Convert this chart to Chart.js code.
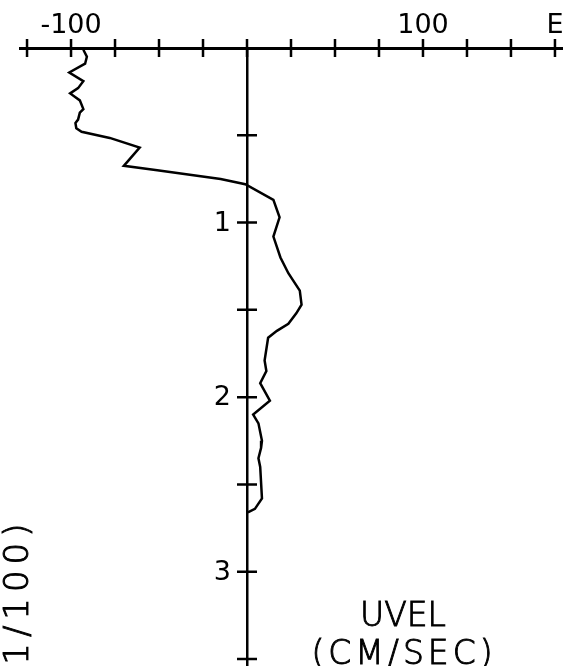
<!DOCTYPE html>
<html>
<head>
<meta charset="utf-8">
<script src="https://cdn.jsdelivr.net/npm/chart.js@4/dist/chart.umd.min.js"></script>
<style>
  html, body { margin: 0; padding: 0; background: #fff; }
  canvas { display: block; }
</style>
</head>
<body>
<canvas id="uvel-chart" width="566" height="666"></canvas>
<script>
// depth (1/100) and east velocity (cm/sec)
const depth = [0.01, 0.05, 0.09, 0.14, 0.19, 0.23, 0.26, 0.30, 0.35, 0.37, 0.41, 0.43, 0.46, 0.48,
  0.515, 0.57, 0.675, 0.70, 0.75, 0.78, 0.87, 0.97, 1.08, 1.20, 1.29, 1.39, 1.47, 1.52, 1.58,
  1.62, 1.66, 1.79, 1.85, 1.92, 2.02, 2.10, 2.15, 2.25, 2.29, 2.35, 2.40, 2.58, 2.64, 2.66];
const uvel = [-93, -91, -92, -101, -93, -96, -100.5, -95, -93, -95, -96, -97.5, -97, -94,
  -78, -61, -70, -51, -15, -1, 15, 18.5, 15, 19, 23.5, 30, 31, 28, 23.5,
  17, 12, 10, 11, 7.5, 13, 3.5, 6.5, 8.5, 8, 6.5, 7.5, 8.5, 4.5, 0.5];

// axis ticks
const xTicks = [-125, -100, -75, -50, -25, 0, 25, 50, 75, 100, 125, 150, 175];
const xTickLabels = { '-100': '-100', '100': '100', '175': 'E' };
const depthTicks = [0.5, 1, 1.5, 2, 2.5, 3, 3.5];
const depthTickLabels = { '1': '1', '2': '2', '3': '3' };

const plotFont = '"DejaVu Sans", sans-serif';

// plotter style "+" ticks, depth labels next to the centre axis, free text
const plotterMarks = {
  id: 'plotterMarks',
  afterDraw(chart) {
    const { ctx, scales: { x, y } } = chart;
    const x0 = x.getPixelForValue(0);
    const yTop = y.getPixelForValue(0);
    ctx.save();
    ctx.strokeStyle = '#000';
    ctx.lineWidth = 2.5;
    ctx.beginPath();
    xTicks.forEach(v => {
      const px = x.getPixelForValue(v);
      ctx.moveTo(px, yTop - 9);
      ctx.lineTo(px, yTop + 9);
    });
    depthTicks.forEach(v => {
      const py = y.getPixelForValue(v);
      ctx.moveTo(x0 - 10, py);
      ctx.lineTo(x0 + 10, py);
    });
    ctx.stroke();

    ctx.fillStyle = '#000';
    ctx.font = '27px ' + plotFont;
    ctx.textAlign = 'right';
    ctx.textBaseline = 'middle';
    depthTicks.forEach(v => {
      const lbl = depthTickLabels[String(v)];
      if (lbl) ctx.fillText(lbl, x0 - 16, y.getPixelForValue(v) + 1);
    });

    // thin plotter lettering
    ctx.font = '200 33px ' + plotFont;
    ctx.lineWidth = 0.9;
    ctx.textAlign = 'center';
    ctx.fillText('UVEL', 403, 617);
    ctx.strokeText('UVEL', 403, 617);
    ctx.letterSpacing = '4px';
    ctx.fillText('(CM/SEC)', 404, 655);
    ctx.strokeText('(CM/SEC)', 404, 655);

    ctx.translate(19, 684);
    ctx.rotate(-Math.PI / 2);
    ctx.textAlign = 'left';
    ctx.letterSpacing = '6px';
    ctx.font = '200 34px ' + plotFont;
    ctx.fillText('(1/100)', 0, 0);
    ctx.strokeText('(1/100)', 0, 0);
    ctx.restore();
  }
};

const ctx = document.getElementById('uvel-chart').getContext('2d');
new Chart(ctx, {
  type: 'line',
  data: {
    datasets: [{
      label: 'UVEL',
      data: depth.map((d, i) => ({ x: uvel[i], y: d })),
      borderColor: '#000',
      borderWidth: 2.5,
      pointRadius: 0,
      fill: false,
      tension: 0
    }]
  },
  options: {
    responsive: false,
    animation: false,
    layout: { padding: { left: 20, right: 4, top: 0, bottom: 0 } },
    plugins: {
      legend: { display: false },
      tooltip: { enabled: false }
    },
    scales: {
      x: {
        type: 'linear',
        position: 'top',
        min: -129,
        max: 179,
        afterBuildTicks: s => { s.ticks = xTicks.map(v => ({ value: v })); },
        afterFit: s => { s.height = 48; s.paddingLeft = 0; s.paddingRight = 0; },
        grid: { display: false },
        border: { display: true, color: '#000', width: 3 },
        ticks: {
          autoSkip: false,
          maxRotation: 0,
          padding: -2,
          color: '#000',
          font: { family: plotFont, size: 27 },
          callback: v => xTickLabels[String(v)] || ''
        }
      },
      y: {
        type: 'linear',
        position: { x: 0 },
        reverse: true,
        min: 0,
        max: 3.54,
        afterBuildTicks: s => { s.ticks = depthTicks.map(v => ({ value: v })); },
        afterFit: s => { s.paddingTop = 0; s.paddingBottom = 0; },
        grid: { display: false },
        border: { display: true, color: '#000', width: 2.5 },
        ticks: { display: false }
      }
    }
  },
  plugins: [plotterMarks]
});
</script>
</body>
</html>
